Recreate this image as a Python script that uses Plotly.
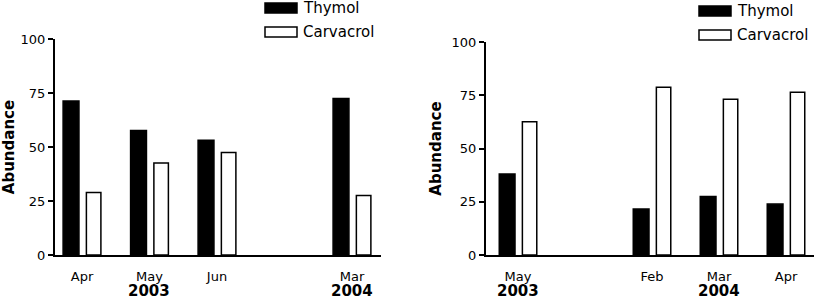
import plotly.graph_objects as go
from plotly.subplots import make_subplots

# ---- data ----
left_months = ["Apr", "May", "Jun", "Mar"]
left_slots = [0, 1, 2, 4]
left_thymol = [71.3, 57.6, 53.1, 72.4]
left_carvacrol = [28.9, 42.6, 47.4, 27.6]
left_years = ["2003", "2004"]
left_year_slots = [1, 4]

right_months = ["May", "Feb", "Mar", "Apr"]
right_slots = [0, 2, 3, 4]
right_thymol = [38.0, 21.6, 27.5, 23.9]
right_carvacrol = [62.6, 78.7, 73.1, 76.4]
right_years = ["2003", "2004"]
right_year_slots = [0, 3]

y_ticks = [0, 25, 50, 75, 100]
series_names = ["Thymol", "Carvacrol"]

W, H = 814, 301
FONT = "DejaVu Sans"

fig = make_subplots(rows=1, cols=2)

def add_bars(col, slots, thy, car):
    fig.add_trace(go.Bar(x=slots, y=thy, name=series_names[0], width=0.235, offset=-0.28,
                         marker=dict(color="black", line=dict(color="black", width=1.5)),
                         showlegend=False), row=1, col=col)
    fig.add_trace(go.Bar(x=slots, y=car, name=series_names[1], width=0.215, offset=0.065,
                         marker=dict(color="white", line=dict(color="black", width=1.5)),
                         showlegend=False), row=1, col=col)

add_bars(1, left_slots, left_thymol, left_carvacrol)
add_bars(2, right_slots, right_thymol, right_carvacrol)

def py(p):
    return 1 - p / H

def px(p):
    return p / W

fig.update_layout(
    width=W, height=H, barmode="overlay",
    margin=dict(l=0, r=0, t=0, b=0, autoexpand=False),
    plot_bgcolor="white", paper_bgcolor="white",
    font=dict(family=FONT, color="black"),
    showlegend=False,
)

xcommon = dict(showgrid=False, zeroline=False, showline=True, linecolor="black", linewidth=2,
               automargin=False,
               ticks="", tickfont=dict(size=13, family=FONT), ticklabelstandoff=8)
ycommon = dict(showgrid=False, zeroline=False, showline=True, linecolor="black", linewidth=2,
               automargin=False,
               ticks="outside", ticklen=5, tickwidth=2, tickcolor="black",
               tickvals=y_ticks, range=[0, 100], tickfont=dict(size=13, family=FONT),
               title=dict(text="<b>Abundance</b>", font=dict(size=15, family=FONT)))

fig.update_xaxes(xcommon, row=1, col=1, domain=[px(55), px(381)], range=[-0.4, 4.43],
                 tickvals=left_slots, ticktext=left_months)
fig.update_xaxes(xcommon, row=1, col=2, domain=[px(486), px(814)], range=[-0.478, 4.418],
                 tickvals=right_slots, ticktext=right_months)
fig.update_yaxes(ycommon, row=1, col=1, domain=[py(255), py(39)], title_standoff=11)
fig.update_yaxes(ycommon, row=1, col=2, domain=[py(255), py(42)], title_standoff=6)

# year labels
for xs, yrs, xref in [(left_year_slots, left_years, "x"), (right_year_slots, right_years, "x2")]:
    for s, t in zip(xs, yrs):
        fig.add_annotation(x=s, y=py(301), xref=xref, yref="paper", text="<b>%s</b>" % t,
                           showarrow=False, font=dict(size=15, family=FONT),
                           xanchor="center", yanchor="bottom", borderpad=0)

# custom legends
for x0, ytop in [(265, 0), (699, 3)]:
    for i, (name, fill) in enumerate(zip(series_names, ["black", "white"])):
        yc = ytop + 8 + i * 24
        fig.add_shape(type="rect", xref="paper", yref="paper",
                      x0=px(x0), x1=px(x0 + 32), y0=py(yc - 5), y1=py(yc + 5),
                      fillcolor=fill, line=dict(color="black", width=1.5))
        fig.add_annotation(x=px(x0 + 36), y=py(yc), xref="paper", yref="paper", text=name,
                           showarrow=False, xanchor="left", yanchor="middle",
                           font=dict(size=15, family=FONT))

fig.write_html("out.html", config={"displayModeBar": False},
               post_script="document.body.style.margin='0px';document.body.style.overflow='hidden';")
